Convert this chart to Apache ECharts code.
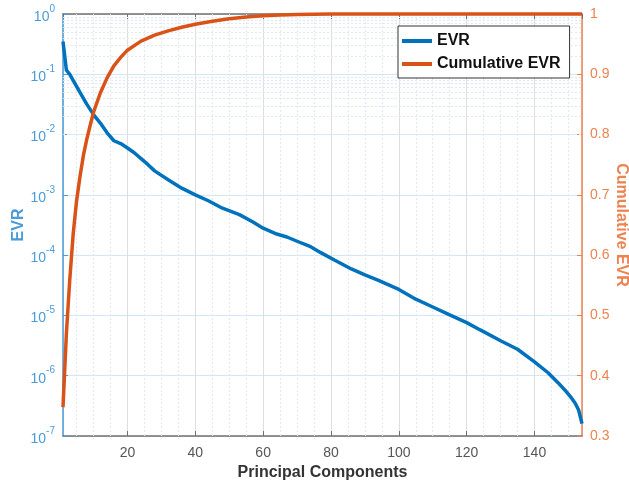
<!DOCTYPE html>
<html>
<head>
<meta charset="utf-8">
<script src="https://cdn.jsdelivr.net/npm/echarts@6/dist/echarts.min.js"></script>
<style>
  html, body { margin: 0; padding: 0; background: #fff; }
  #chart { width: 629px; height: 484px; }
</style>
</head>
<body>
<div id="chart"></div>
<script>
// values
const evrIdx = [1, 2, 3, 4, 5, 6, 8, 10, 12, 14, 16, 18, 20, 22, 24, 26, 28, 32, 36, 40,
  44, 48, 53, 57, 60, 64, 67, 70, 74, 77, 81, 86, 90, 94, 100, 105, 110, 115, 120, 124,
  130, 135, 140, 144, 147, 149, 151, 152, 153, 154];
const evrVal = [0.35, 0.117, 0.1, 0.079, 0.063, 0.05, 0.032, 0.0214, 0.0155, 0.0107, 0.0079, 0.0071, 0.006, 0.005, 0.004, 0.0032, 0.0025, 0.00178, 0.00129, 0.001,
  0.00079, 0.0006, 0.00047, 0.000355, 0.00028, 0.000224, 0.0002, 0.00017, 0.000138, 0.00011, 8.3e-5, 5.9e-5, 4.7e-5, 3.8e-5, 2.7e-5, 1.86e-5, 1.38e-5, 1.02e-5, 7.6e-6, 5.75e-6,
  3.8e-6, 2.75e-6, 1.7e-6, 1.12e-6, 7.6e-7, 5.75e-7, 4.2e-7, 3.5e-7, 2.7e-7, 1.6e-7];

const cumIdx = [1, 2, 3, 4, 5, 6, 7, 8, 9, 10, 12, 14, 16, 18, 20, 24, 28, 32, 36, 40, 45, 50, 55, 60, 65, 70, 80, 154];
const cumVal = [0.348, 0.47, 0.56, 0.635, 0.69, 0.73, 0.765, 0.792, 0.815, 0.837, 0.869, 0.894, 0.914, 0.928, 0.94, 0.955, 0.965, 0.972, 0.978, 0.983, 0.988, 0.992, 0.995, 0.997, 0.9985, 0.9993, 1, 1];

const xMin = 1, xMax = 154;
const leftMin = 1e-7, leftMax = 1;
const rightMin = 0.3, rightMax = 1;

const blue = '#0072BD', orange = '#D95319';
const blueText = '#4a9bd8', orangeText = '#ec8350';

// minor grid positions (log decades 2..9, x every 5)
const minorY = [];
for (let e = -7; e < 0; e++) for (let k = 2; k <= 9; k++) minorY.push(k * Math.pow(10, e));
const minorX = [];
for (let x = 5; x < xMax; x += 5) if (x % 20 !== 0) minorX.push(x);

const chart = echarts.init(document.getElementById('chart'));
const font = 'Liberation Sans, Arial, sans-serif';

chart.setOption({
  animation: false,
  textStyle: { fontFamily: font },
  grid: { left: 63, right: 47, top: 14, bottom: 48, outerBoundsMode: 'none', containLabel: false },
  legend: {
    data: [
      { name: 'EVR', icon: 'rect' },
      { name: 'Cumulative EVR', icon: 'rect' }
    ],
    orient: 'vertical',
    left: 398, top: 26,
    itemWidth: 30, itemHeight: 4, itemGap: 7,
    padding: [7, 9, 6, 4],
    backgroundColor: '#fff',
    borderColor: '#333', borderWidth: 1,
    textStyle: { fontFamily: font, fontSize: 16, fontWeight: 'bold', color: '#111' }
  },
  xAxis: [{
    type: 'value', min: xMin, max: xMax, splitNumber: 7,
    name: 'Principal Components', nameLocation: 'middle', nameGap: 29,
    nameTextStyle: { fontSize: 16, fontWeight: 'bold', color: '#333' },
    axisLine: { lineStyle: { color: '#707070', width: 1.5 } },
    axisTick: { inside: true, length: 5, lineStyle: { color: '#707070' } },
    axisLabel: { fontSize: 14, color: '#555', showMinLabel: false, showMaxLabel: false, margin: 10 },
    splitLine: { show: true, lineStyle: { color: '#dedede', width: 1 } }
  }, {
    type: 'value', min: xMin, max: xMax, splitNumber: 7, position: 'top',
    axisLine: { show: true, lineStyle: { color: '#707070', width: 1.5 } },
    axisTick: { show: true, inside: true, length: 5, lineStyle: { color: '#707070' } },
    axisLabel: { show: false },
    splitLine: { show: false }
  }],
  yAxis: [{
    type: 'log', logBase: 10, min: leftMin, max: leftMax, position: 'left',
    name: 'EVR', nameLocation: 'middle', nameGap: 36, nameMoveOverlap: false,
    nameTextStyle: { fontSize: 16, fontWeight: 'bold', color: blueText },
    axisLine: { show: true, lineStyle: { color: blueText, width: 1.5 } },
    axisTick: { show: true, inside: true, length: 5, lineStyle: { color: blueText } },
    axisLabel: {
      margin: 8,
      formatter: v => '{b|10}{s|' + Math.round(Math.log10(v)) + '}',
      rich: {
        b: { fontSize: 14, color: blueText, lineHeight: 20, verticalAlign: 'bottom' },
        s: { fontSize: 10, color: blueText, lineHeight: 12, verticalAlign: 'top' }
      }
    },
    splitLine: { show: true, lineStyle: { color: '#d2e6f6', width: 1 } }
  }, {
    type: 'value', min: rightMin, max: rightMax, interval: 0.1, position: 'right',
    name: 'Cumulative EVR', nameLocation: 'middle', nameGap: 31, nameRotate: -90, nameMoveOverlap: false,
    nameTextStyle: { fontSize: 16, fontWeight: 'bold', color: orangeText },
    axisLine: { show: true, lineStyle: { color: orangeText, width: 1.5 } },
    axisTick: { show: true, inside: true, length: 5, lineStyle: { color: orangeText } },
    axisLabel: { fontSize: 14, color: orangeText, margin: 8, formatter: v => String(+v.toFixed(1)) },
    splitLine: { show: false }
  }],
  series: [{
    type: 'line', data: [], xAxisIndex: 0, yAxisIndex: 0, z: 1, silent: true,
    markLine: {
      z: 1, silent: true, symbol: 'none', label: { show: false },
      lineStyle: { color: '#dfe9f3', type: [2, 2], width: 1 },
      data: minorY.map(v => ({ yAxis: v })).concat(minorX.map(v => ({ xAxis: v })))
    }
  }, {
    name: 'EVR', type: 'line', xAxisIndex: 0, yAxisIndex: 0, z: 3,
    data: evrIdx.map((x, i) => [x, evrVal[i]]),
    showSymbol: false, symbol: 'none',
    lineStyle: { color: blue, width: 3.5 }, itemStyle: { color: blue }
  }, {
    name: 'Cumulative EVR', type: 'line', xAxisIndex: 0, yAxisIndex: 1, z: 3,
    data: cumIdx.map((x, i) => [x, cumVal[i]]),
    showSymbol: false, symbol: 'none', clip: false,
    lineStyle: { color: orange, width: 3.5 }, itemStyle: { color: orange }
  }]
});
</script>
</body>
</html>
